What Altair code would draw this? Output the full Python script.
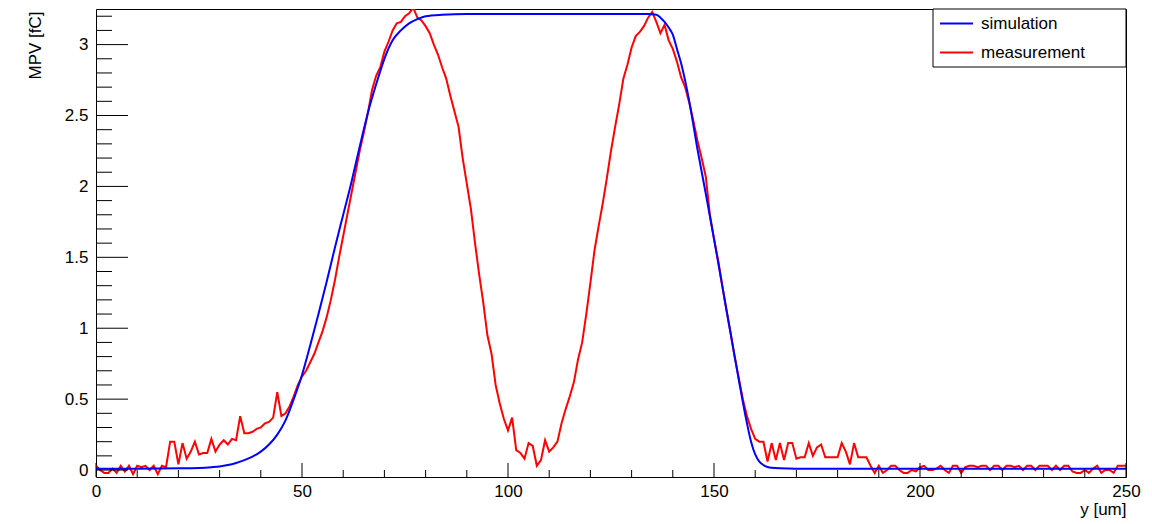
import altair as alt
import pandas as pd

# ---------------- data ----------------
meas_x = list(range(0, 251))
meas_y = [
    0.03, 0.0, -0.02, -0.02, 0.01, -0.02, 0.03, -0.01, 0.03, -0.03,   # 0-9
    0.03, 0.02, 0.03, 0.0, 0.03, -0.03, 0.03, 0.02, 0.2, 0.2,          # 10-19
    0.04, 0.19, 0.08, 0.13, 0.2, 0.11, 0.12, 0.12, 0.22, 0.13,         # 20-29
    0.18, 0.21, 0.18, 0.22, 0.21, 0.38, 0.26, 0.26, 0.27, 0.29,        # 30-39
    0.3, 0.33, 0.34, 0.37, 0.55, 0.38, 0.4, 0.45, 0.52, 0.6,           # 40-49
    0.66, 0.7, 0.76, 0.82, 0.9, 0.98, 1.08, 1.2, 1.34, 1.5,            # 50-59
    1.65, 1.8, 1.95, 2.1, 2.25, 2.38, 2.52, 2.68, 2.78, 2.84,          # 60-69
    2.95, 3.02, 3.1, 3.15, 3.16, 3.2, 3.22, 3.26, 3.19, 3.17,          # 70-79
    3.13, 3.08, 3.0, 2.93, 2.84, 2.76, 2.64, 2.53, 2.42, 2.2,          # 80-89
    2.02, 1.84, 1.6, 1.38, 1.18, 0.95, 0.82, 0.6, 0.47, 0.36,          # 90-99
    0.28, 0.37, 0.14, 0.12, 0.08, 0.19, 0.17, 0.03, 0.07, 0.21,        # 100-109
    0.13, 0.16, 0.2, 0.33, 0.43, 0.52, 0.62, 0.78, 0.9, 1.1,           # 110-119
    1.32, 1.55, 1.72, 1.88, 2.06, 2.25, 2.42, 2.58, 2.76, 2.86,        # 120-129
    2.98, 3.06, 3.09, 3.13, 3.19, 3.23, 3.16, 3.08, 3.14, 3.03,        # 130-139
    2.97, 2.88, 2.77, 2.7, 2.59, 2.46, 2.32, 2.2, 2.07, 1.8,           # 140-149
    1.63, 1.48, 1.3, 1.13, 0.97, 0.8, 0.65, 0.5, 0.38, 0.29,           # 150-159
    0.22, 0.2, 0.2, 0.06, 0.19, 0.07, 0.19, 0.07, 0.19, 0.19,          # 160-169
    0.08, 0.09, 0.09, 0.19, 0.1, 0.16, 0.18, 0.09, 0.09, 0.09,         # 170-179
    0.09, 0.19, 0.13, 0.04, 0.19, 0.09, 0.09, 0.09, 0.03, -0.02,       # 180-189
    0.03, -0.02, 0.0, 0.03, 0.03, 0.0, -0.02, -0.02, 0.0, -0.01,       # 190-199
    0.02, 0.03, 0.0, 0.0, 0.01, 0.03, 0.0, -0.02, 0.03, 0.03,          # 200-209
    -0.02, 0.02, 0.03, 0.03, 0.02, 0.03, 0.03, 0.0, 0.03, 0.03,        # 210-219
    0.0, 0.03, 0.03, 0.02, 0.03, 0.0, 0.03, 0.03, 0.0, 0.03,           # 220-229
    0.03, 0.03, 0.0, 0.03, 0.0, 0.03, 0.03, -0.01, -0.02, -0.02,       # 230-239
    0.0, -0.02, 0.01, 0.03, -0.02, 0.0, 0.0, -0.02, 0.03, 0.03,        # 240-249
    0.03,                                                              # 250
]

sim_x = [0, 10, 20, 25, 28, 30, 32, 34, 36, 38, 40, 42, 44, 46, 48, 50,
         52, 54, 56, 58, 60, 62, 64, 66, 68, 70, 72, 74, 76, 78, 80, 84,
         90, 100, 110, 120, 130, 134, 136, 137, 138, 139, 140, 141, 142,
         144, 146, 148, 150, 152, 154, 156, 158, 159, 160, 161, 162, 163,
         164, 166, 170, 180, 200, 220, 250]
sim_y = [0.01, 0.01, 0.012, 0.015, 0.02, 0.025, 0.035, 0.05, 0.07, 0.095,
         0.13, 0.18, 0.25, 0.35, 0.5, 0.67,
         0.88, 1.1, 1.33, 1.57, 1.8, 2.03, 2.28, 2.52, 2.72, 2.9, 3.03, 3.1,
         3.15, 3.18, 3.2, 3.21,
         3.215, 3.215, 3.215, 3.215, 3.215, 3.215, 3.21, 3.19, 3.16, 3.12,
         3.07, 2.97, 2.87,
         2.6, 2.26, 1.95, 1.63, 1.3, 0.97, 0.64, 0.33, 0.2, 0.11, 0.06, 0.035,
         0.022, 0.016, 0.012, 0.01, 0.01, 0.01, 0.01, 0.01]

series_names = ["simulation", "measurement"]
series_colors = ["#0000ff", "#ff0000"]

x_major = [0, 50, 100, 150, 200, 250]
x_minor = [v for v in range(0, 251, 10) if v % 50 != 0]
y_major = [0, 0.5, 1, 1.5, 2, 2.5, 3]
y_minor = [round(v * 0.1, 1) for v in range(0, 33) if v % 5 != 0]

X_DOMAIN = [0, 250]
Y_DOMAIN = [-0.049, 3.251]
W, H = 1030, 468
FONT = "Liberation Sans"

xs = alt.Scale(domain=X_DOMAIN, nice=False, zero=False)
ys = alt.Scale(domain=Y_DOMAIN, nice=False, zero=False)

meas_df = pd.DataFrame({"x": meas_x, "y": meas_y})
sim_df = pd.DataFrame({"x": sim_x, "y": sim_y})

x_axis = alt.Axis(values=x_major, ticks=False, domain=False, grid=False,
                  labelFontSize=17, labelFont=FONT, labelColor="black",
                  labelPadding=6, labelFlush=False,
                  title="y [um]", titleFont=FONT, titleFontSize=17,
                  titleFontWeight="normal", titleColor="black",
                  titleAnchor="end", titleAlign="right", titleBaseline="top",
                  titleX=W, titleY=24)
y_axis = alt.Axis(values=y_major, ticks=False, domain=False, grid=False,
                  labelFontSize=17, labelFont=FONT, labelColor="black",
                  labelPadding=8, labelFlush=False, format="~g",
                  title="MPV [fC]", titleFont=FONT, titleFontSize=17,
                  titleFontWeight="normal", titleColor="black",
                  titleAngle=-90, titleAlign="right", titleBaseline="alphabetic",
                  titleX=-56, titleY=2)

meas = alt.Chart(meas_df).mark_line(color=series_colors[1], strokeWidth=2, clip=True).encode(
    x=alt.X("x:Q", scale=xs, axis=x_axis),
    y=alt.Y("y:Q", scale=ys, axis=y_axis),
)
sim = alt.Chart(sim_df).mark_line(color=series_colors[0], strokeWidth=2, clip=True,
                                  interpolate="monotone").encode(
    x=alt.X("x:Q", scale=xs, axis=x_axis),
    y=alt.Y("y:Q", scale=ys, axis=y_axis),
)

def xticks(vals, length):
    return alt.Chart(pd.DataFrame({"x": vals})).mark_rule(color="black", strokeWidth=1).encode(
        x=alt.X("x:Q", scale=xs, axis=x_axis),
        y=alt.value(H), y2=alt.value(H - length))

def yticks(vals, length):
    return alt.Chart(pd.DataFrame({"y": vals})).mark_rule(color="black", strokeWidth=1).encode(
        y=alt.Y("y:Q", scale=ys, axis=y_axis),
        x=alt.value(0), x2=alt.value(length))

one = pd.DataFrame({"k": [0]})
leg_box = alt.Chart(one).mark_rect(fill="white", stroke="black", strokeWidth=1).encode(
    x=alt.value(837), x2=alt.value(W), y=alt.value(0), y2=alt.value(58))

leg_layers = []
for i, (name, col) in enumerate(zip(series_names, series_colors)):
    yy = 14.5 + 29 * i
    d = pd.DataFrame({"label": [name]})
    leg_layers.append(alt.Chart(d).mark_rule(color=col, strokeWidth=2).encode(
        x=alt.value(844), x2=alt.value(877), y=alt.value(yy)))
    leg_layers.append(alt.Chart(d).mark_text(font=FONT, fontSize=17, color="black",
                                             align="left", baseline="middle").encode(
        x=alt.value(885), y=alt.value(yy), text="label:N"))

chart = alt.layer(
    meas, sim,
    xticks(x_minor, 7), xticks(x_major, 14),
    yticks(y_minor, 16), yticks(y_major, 32),
    leg_box, *leg_layers,
).properties(
    width=W, height=H,
    autosize=alt.AutoSizeParams(type="none"),
    padding={"left": 88, "top": 1, "right": 18, "bottom": 47},
    background="white",
).configure_view(stroke="black", strokeWidth=1)

chart.save("out.html", embed_options={"renderer": "svg", "actions": False})
